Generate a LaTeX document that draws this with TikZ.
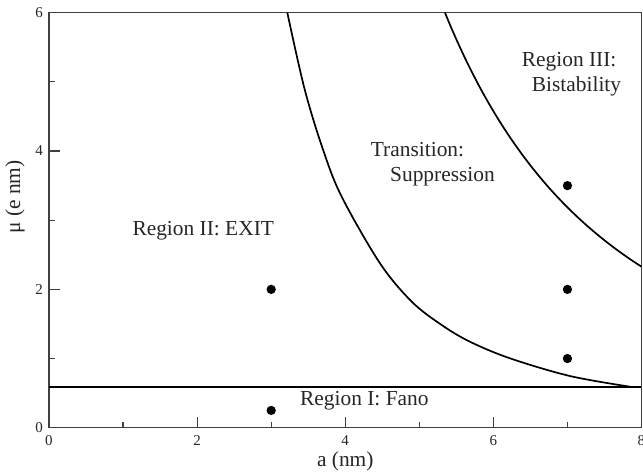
\documentclass[tikz,border=0pt]{standalone}
\usepackage{fontspec}
\setmainfont{Liberation Serif}
\begin{document}
\begin{tikzpicture}[x=74.06pt,y=69.17pt,
  frame/.style={black!75,line width=1.2pt},
  curve/.style={black,line width=1.7pt},
  ticklab/.style={font=\fontsize{15}{18}\selectfont,inner sep=0pt,text=black!85},
  lab/.style={font=\fontsize{21.4}{25}\selectfont,inner sep=0pt,anchor=base west,text=black!85},
  dot/.style={circle,fill=black,inner sep=0pt,minimum size=9.3pt}]
\useasboundingbox (-0.6616,-0.6405) rectangle (8.0205,6.1834);
% frame
\draw[frame] (0,0) rectangle (8,6);
\foreach \x in {1,3,5,7} \draw[frame] (\x,0) -- ++(0,6pt);
\foreach \x in {2,4,6} \draw[frame] (\x,0) -- ++(0,11pt);
\foreach \y in {1,3,5} \draw[frame] (0,\y) -- ++(6pt,0);
\foreach \y in {2,4} \draw[frame] (0,\y) -- ++(11pt,0);
% tick labels
\foreach \x in {0,2,4,6,8} \node[ticklab,anchor=base] (xl\x) at (\x,-0.25) {\x};
\foreach \y in {0,2,4,6} \node[ticklab,anchor=east] (yl\y) at (-0.081,\y) {\y};
% axis titles
\node[font=\fontsize{21.4}{25}\selectfont,inner sep=0pt,anchor=base,text=black!85] (xt) at (4,-0.564) {a (nm)};
\node[font=\fontsize{21.4}{25}\selectfont,inner sep=0pt,rotate=90,text=black!85] (yt) at (-0.459,3.335) {μ (e nm)};
% boundaries
\coordinate (h0) at (0,0.584);
\coordinate (h1) at (8,0.584);
\draw[curve] (h0) -- (h1);
\draw[curve] plot[smooth,tension=0.55] coordinates {(3.218,6) (3.45,4.90) (3.7,4.02) (3.952,3.34) (4.469,2.377) (4.9,1.82) (5.302,1.485) (5.684,1.243) (6.225,1.003) (7.035,0.747) (7.845,0.593)};
\draw[curve] plot[domain=5.347:8,samples=60] (\x,{6*pow(5.347/\x,2.35)});
% dots
\node[dot] (d1) at (3,0.25) {};
\node[dot] (d2) at (3,2) {};
\node[dot] (d3) at (7,1) {};
\node[dot] (d4) at (7,2) {};
\node[dot] (d5) at (7,3.5) {};
% region labels
\node[lab] (r3a) at (6.383,5.219) {Region III:};
\node[lab] (r3b) at (6.518,4.858) {Bistability};
\node[lab] (tra) at (4.344,3.918) {Transition:};
\node[lab] (trb) at (4.604,3.556) {Suppression};
\node[lab] (r2) at (1.125,2.786) {Region II: EXIT};
\node[lab] (r1) at (3.389,0.314) {Region I: Fano};
\end{tikzpicture}
\end{document}
